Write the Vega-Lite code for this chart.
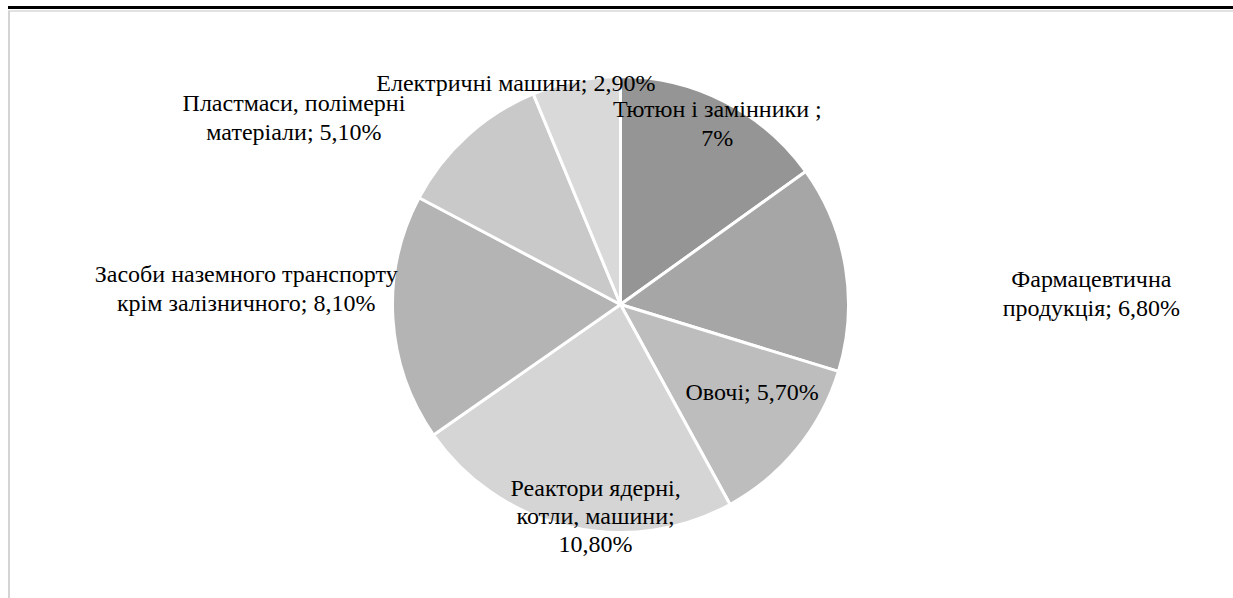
{
  "$schema": "https://vega.github.io/schema/vega-lite/v6.json",
  "autosize": "none",
  "width": 1225,
  "height": 587,
  "padding": {"left": 8, "top": 11, "right": 0, "bottom": 0},
  "background": "white",
  "config": {"view": {"stroke": null}, "font": "Liberation Serif", "text": {"font": "Liberation Serif", "fontSize": 24, "lineHeight": 29, "lineBreak": "\n", "align": "center", "baseline": "middle", "color": "black"}},
  "data": {
    "values": [
      {"idx": 1, "cat": "Тютюн і замінники", "value": 7.0, "label": "Тютюн і  замінники ;\n7%"},
      {"idx": 2, "cat": "Фармацевтична продукція", "value": 6.8, "label": "Фармацевтична\nпродукція; 6,80%"},
      {"idx": 3, "cat": "Овочі", "value": 5.7, "label": "Овочі; 5,70%"},
      {"idx": 4, "cat": "Реактори ядерні, котли, машини", "value": 10.8, "label": "Реактори ядерні,\nкотли, машини;\n10,80%"},
      {"idx": 5, "cat": "Засоби наземного транспорту крім залізничного", "value": 8.1, "label": "Засоби наземного транспорту\nкрім залізничного; 8,10%"},
      {"idx": 6, "cat": "Пластмаси, полімерні матеріали", "value": 5.1, "label": "Пластмаси, полімерні\nматеріали; 5,10%"},
      {"idx": 7, "cat": "Електричні машини", "value": 2.9, "label": "Електричні машини; 2,90%"}
    ]
  },
  "layer": [
    {
      "mark": {"type": "arc", "outerRadius": 228, "stroke": "white", "strokeWidth": 3},
      "encoding": {
        "theta": {"field": "value", "type": "quantitative", "stack": true},
        "order": {"field": "idx", "type": "quantitative"},
        "color": {
          "field": "cat", "type": "nominal", "legend": null,
          "scale": {
            "domain": ["Тютюн і замінники", "Фармацевтична продукція", "Овочі", "Реактори ядерні, котли, машини", "Засоби наземного транспорту крім залізничного", "Пластмаси, полімерні матеріали", "Електричні машини"],
            "range": ["#959595", "#a6a6a6", "#bdbdbd", "#d5d5d5", "#b4b4b4", "#c9c9c9", "#d9d9d9"]
          }
        }
      }
    },
    {
      "data": {"values": [{"v": 1}]},
      "mark": {"type": "rule", "color": "black", "strokeWidth": 3, "yOffset": -3.5},
      "encoding": {"y": {"field": "v", "type": "quantitative", "scale": {"domain": [0, 1]}, "axis": null}}
    },
    {
      "data": {"values": [{"v": 1}]},
      "mark": {"type": "rule", "color": "#d9d9d9", "strokeWidth": 1.5},
      "encoding": {"y": {"field": "v", "type": "quantitative", "scale": {"domain": [0, 1]}, "axis": null}}
    },
    {
      "data": {"values": [{"u": 0}]},
      "mark": {"type": "rule", "color": "#d4d4d4", "strokeWidth": 2, "xOffset": 1},
      "encoding": {"x": {"field": "u", "type": "quantitative", "scale": {"domain": [0, 1]}, "axis": null}}
    },
    {
      "mark": {"type": "text", "radius": 199, "dx": 6, "dy": -17},
      "encoding": {
        "theta": {"field": "value", "type": "quantitative", "stack": true},
        "order": {"field": "idx", "type": "quantitative"},
        "text": {"condition": {"test": "datum.idx === 1", "field": "label"}, "value": ""}
      }
    },
    {
      "mark": {"type": "text", "radius": 466, "dx": 11, "dy": 51},
      "encoding": {
        "theta": {"field": "value", "type": "quantitative", "stack": true},
        "order": {"field": "idx", "type": "quantitative"},
        "text": {"condition": {"test": "datum.idx === 2", "field": "label"}, "value": ""}
      }
    },
    {
      "mark": {"type": "text", "radius": 153, "dx": 13, "dy": -8},
      "encoding": {
        "theta": {"field": "value", "type": "quantitative", "stack": true},
        "order": {"field": "idx", "type": "quantitative"},
        "text": {"condition": {"test": "datum.idx === 3", "field": "label"}, "value": ""}
      }
    },
    {
      "mark": {"type": "text", "radius": 210, "dx": 23, "dy": -20, "lineHeight": 28},
      "encoding": {
        "theta": {"field": "value", "type": "quantitative", "stack": true},
        "order": {"field": "idx", "type": "quantitative"},
        "text": {"condition": {"test": "datum.idx === 4", "field": "label"}, "value": ""}
      }
    },
    {
      "mark": {"type": "text", "radius": 379, "dx": 4, "dy": -53},
      "encoding": {
        "theta": {"field": "value", "type": "quantitative", "stack": true},
        "order": {"field": "idx", "type": "quantitative"},
        "text": {"condition": {"test": "datum.idx === 5", "field": "label"}, "value": ""}
      }
    },
    {
      "mark": {"type": "text", "radius": 362, "dx": -83, "dy": 67},
      "encoding": {
        "theta": {"field": "value", "type": "quantitative", "stack": true},
        "order": {"field": "idx", "type": "quantitative"},
        "text": {"condition": {"test": "datum.idx === 6", "field": "label"}, "value": ""}
      }
    },
    {
      "mark": {"type": "text", "radius": 244, "dx": -57, "dy": 19},
      "encoding": {
        "theta": {"field": "value", "type": "quantitative", "stack": true},
        "order": {"field": "idx", "type": "quantitative"},
        "text": {"condition": {"test": "datum.idx === 7", "field": "label"}, "value": ""}
      }
    }
  ]
}
